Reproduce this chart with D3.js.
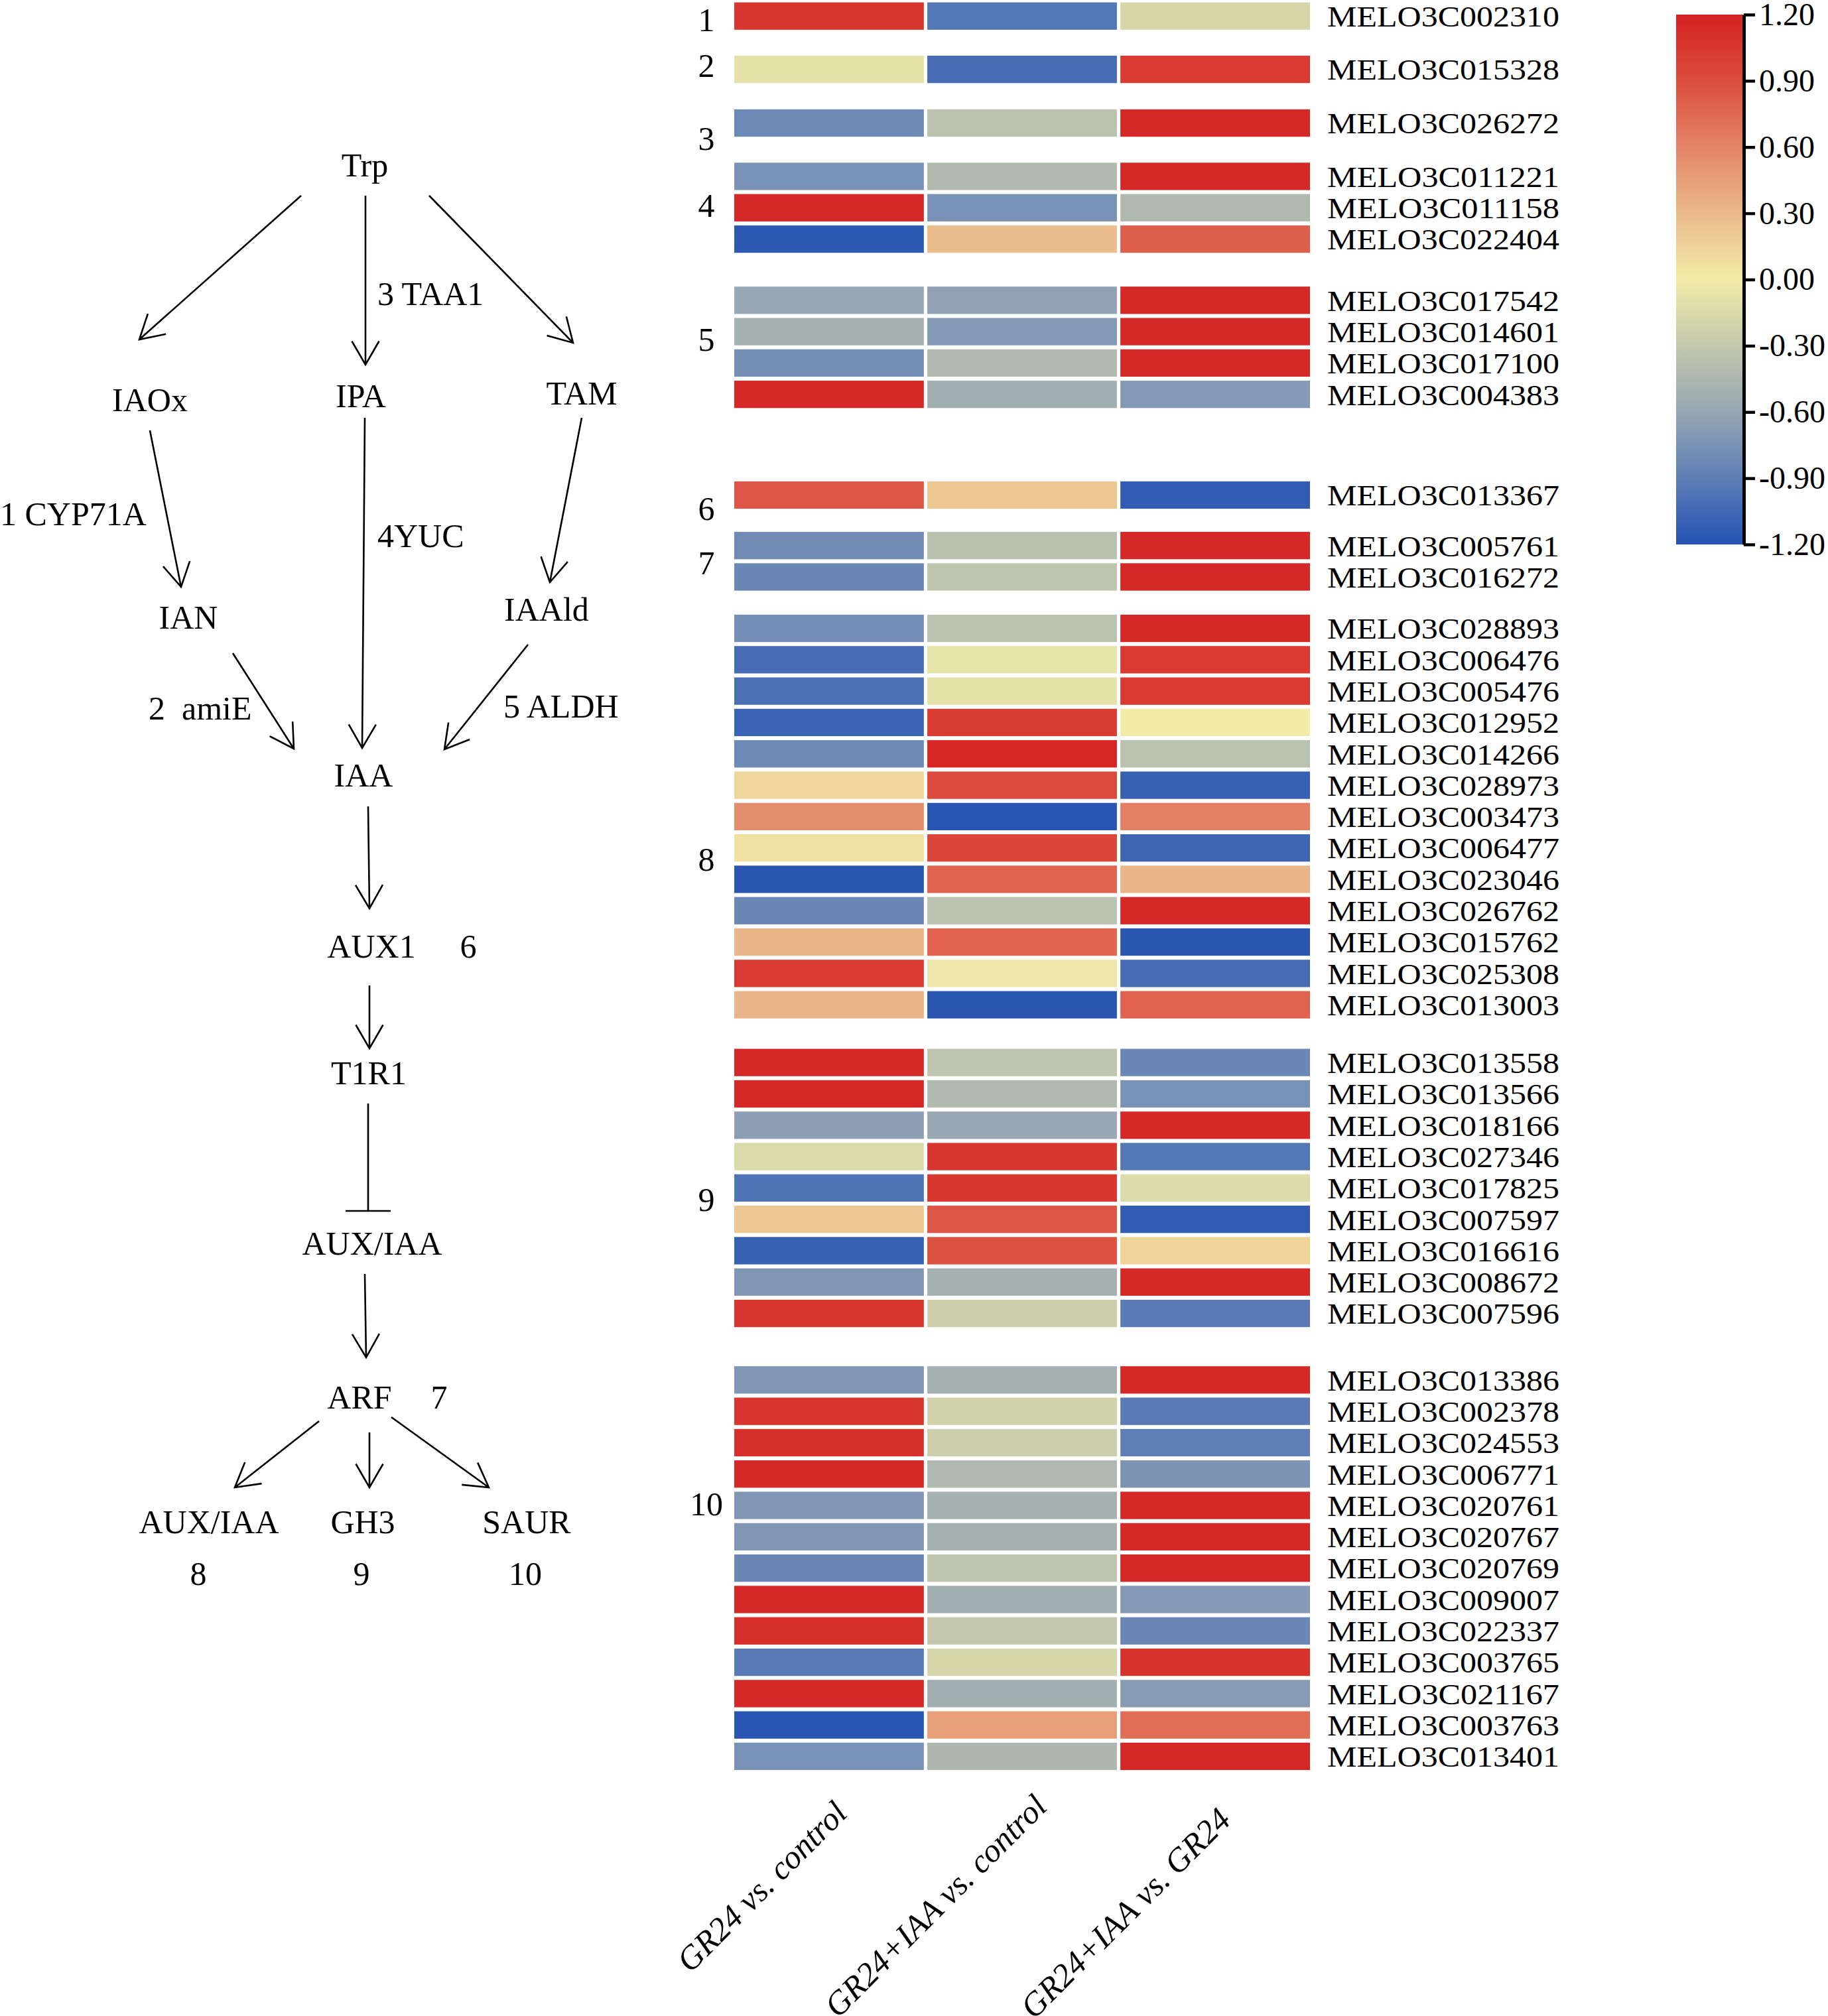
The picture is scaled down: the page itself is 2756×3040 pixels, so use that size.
<!DOCTYPE html>
<html>
<head>
<meta charset="utf-8">
<script src="https://cdn.jsdelivr.net/npm/d3@7/dist/d3.min.js"></script>
<style>
  html, body { margin: 0; padding: 0; background: #ffffff; }
  svg { display: block; }
  text { font-family: "Liberation Serif", "Times New Roman", serif; fill: #000; }
</style>
</head>
<body>
<svg id="chart" width="2756" height="3040"></svg>
<script>
// ---------------- DATA ----------------
const comparisons = ["GR24 vs. control", "GR24+IAA vs. control", "GR24+IAA vs. GR24"];

const groupIds = ["1", "2", "3", "4", "5", "6", "7", "8", "9", "10"];
const groupSizes = [1, 1, 1, 3, 4, 1, 2, 13, 9, 13];

const genes = [
  "MELO3C002310",
  "MELO3C015328",
  "MELO3C026272",
  "MELO3C011221", "MELO3C011158", "MELO3C022404",
  "MELO3C017542", "MELO3C014601", "MELO3C017100", "MELO3C004383",
  "MELO3C013367",
  "MELO3C005761", "MELO3C016272",
  "MELO3C028893", "MELO3C006476", "MELO3C005476", "MELO3C012952", "MELO3C014266",
  "MELO3C028973", "MELO3C003473", "MELO3C006477", "MELO3C023046", "MELO3C026762",
  "MELO3C015762", "MELO3C025308", "MELO3C013003",
  "MELO3C013558", "MELO3C013566", "MELO3C018166", "MELO3C027346", "MELO3C017825",
  "MELO3C007597", "MELO3C016616", "MELO3C008672", "MELO3C007596",
  "MELO3C013386", "MELO3C002378", "MELO3C024553", "MELO3C006771", "MELO3C020761",
  "MELO3C020767", "MELO3C020769", "MELO3C009007", "MELO3C022337", "MELO3C003765",
  "MELO3C021167", "MELO3C003763", "MELO3C013401"
];

const gr24VsControl = [
  1.05,
  -0.08,
  -0.82,
  -0.75, 1.15, -1.15,
  -0.58, -0.50, -0.77, 1.15,
  0.85,
  -0.80, -0.83,
  -0.78, -1.02, -1.00, -1.08, -0.82, 0.13, 0.55, 0.07, -1.17, -0.83, 0.32, 1.03, 0.32,
  1.15, 1.15, -0.65, -0.15, -0.97, 0.22, -1.10, -0.72, 1.05,
  -0.72, 1.07, 1.10, 1.15, -0.72, -0.72, -0.83, 1.15, 1.10, -0.92, 1.15, -1.18, -0.76
];

const gr24IaaVsControl = [
  -0.95,
  -1.02,
  -0.35,
  -0.42, -0.75, 0.28,
  -0.63, -0.70, -0.42, -0.52,
  0.22,
  -0.37, -0.33,
  -0.36, -0.07, -0.08, 1.02, 1.18, 0.92, -1.18, 0.95, 0.78, -0.36, 0.78, -0.04, -1.17,
  -0.33, -0.42, -0.58, 1.05, 1.05, 0.85, 0.88, -0.50, -0.23,
  -0.50, -0.22, -0.25, -0.43, -0.50, -0.50, -0.33, -0.52, -0.30, -0.18, -0.52, 0.45, -0.45
];

const gr24IaaVsGr24 = [
  -0.18,
  1.03,
  1.15,
  1.15, -0.43, 0.80,
  1.15, 1.15, 1.15, -0.70,
  -1.13,
  1.15, 1.15,
  1.15, 1.03, 1.03, 0.00, -0.36, -1.10, 0.62, -1.07, 0.32, 1.15, -1.17, -1.02, 0.78,
  -0.83, -0.76, 1.15, -0.95, -0.14, -1.13, 0.15, 1.15, -0.92,
  1.15, -0.92, -0.90, -0.74, 1.15, 1.15, 1.15, -0.70, -0.83, 1.08, -0.68, 0.72, 1.15
];

const legendTicks = [1.2, 0.9, 0.6, 0.3, 0.0, -0.3, -0.6, -0.9, -1.2];
const colorStops = ["#d42222", "#dc4d3e", "#e38468", "#ebb98a", "#f2eca8", "#c3c8ad", "#96a6b3", "#5e7eb6", "#2452b2"];

// ---------------- LAYOUT (not data) ----------------
const W = 2756, H = 3040;
const FONT = 50;
const GENE_FONT = 44;
const rowPitch = 47.3;
const heatTop = 3.6;
const groupGapSlots = [0, 0.70, 0.71, 0.70, 0.95, 2.21, 0.61, 0.64, 0.84, 1.12];
const groupLabelShift = [6, -6, 23, -3, -12, 20, 3, 65, 18, -97];
const colLabelShift = [[-18, -8], [-8, -18], [-22, 2]];

const svg = d3.select("#chart");
svg.append("rect").attr("width", W).attr("height", H).attr("fill", "#fff");

// compute slot index per row
const rows = [];
const groupInfo = [];
let slot = 0, gi = 0;
groupSizes.forEach((n, g) => {
  slot += groupGapSlots[g];
  const start = slot;
  for (let k = 0; k < n; k++) {
    rows.push({ gene: genes[gi], slot: slot, group: g,
      vals: [gr24VsControl[gi], gr24IaaVsControl[gi], gr24IaaVsGr24[gi]] });
    gi++; slot += 1;
  }
  groupInfo.push({ id: groupIds[g], start: start, end: slot });
});
const totalSlots = slot;

const y = d3.scaleLinear().domain([0, totalSlots]).range([heatTop, heatTop + totalSlots * rowPitch]);
const x = d3.scaleBand().domain(comparisons).range([1107, 1975]).paddingInner(0.018);
const cellH = rowPitch * 0.873;

const color = d3.scaleLinear()
  .domain(legendTicks)
  .range(colorStops)
  .interpolate(d3.interpolateRgb)
  .clamp(true);

// ---------------- HEATMAP ----------------
const heat = svg.append("g");
rows.forEach(r => {
  heat.selectAll(null)
    .data(comparisons.map((c, i) => ({ c, v: r.vals[i] })))
    .join("rect")
    .attr("x", d => x(d.c))
    .attr("y", y(r.slot))
    .attr("width", x.bandwidth())
    .attr("height", cellH)
    .attr("fill", d => color(d.v));
});

heat.selectAll("text.gene")
  .data(rows)
  .join("text")
  .attr("class", "gene")
  .attr("x", 2001)
  .attr("y", d => y(d.slot) + cellH / 2 + GENE_FONT * 0.36)
  .attr("font-size", GENE_FONT)
  .attr("textLength", 350)
  .attr("lengthAdjust", "spacingAndGlyphs")
  .text(d => d.gene);

heat.selectAll("text.grp")
  .data(groupInfo)
  .join("text")
  .attr("class", "grp")
  .attr("x", 1065)
  .attr("text-anchor", "middle")
  .attr("y", (d, i) => (y(d.start) + y(d.end - 1) + cellH) / 2 + groupLabelShift[i] + FONT * 0.34)
  .attr("font-size", FONT)
  .text(d => d.id);

// column labels (rotated, italic)
svg.selectAll("text.col")
  .data(comparisons)
  .join("text")
  .attr("class", "col")
  .attr("text-anchor", "end")
  .attr("font-style", "italic")
  .attr("font-size", FONT)
  .attr("transform", (d, i) => `translate(${x(d) + x.bandwidth() / 2 + 48 + colLabelShift[i][0]},${2745 + colLabelShift[i][1]}) rotate(-45)`)
  .text(d => d);

// ---------------- COLOR LEGEND ----------------
const ly = d3.scaleLinear().domain([1.2, -1.2]).range([22, 821]);
const defs = svg.append("defs");
const grad = defs.append("linearGradient").attr("id", "lg")
  .attr("x1", 0).attr("y1", 0).attr("x2", 0).attr("y2", 1);
legendTicks.forEach((t, i) => {
  grad.append("stop")
    .attr("offset", (ly(t) - 22) / (821 - 22))
    .attr("stop-color", colorStops[i]);
});
svg.append("rect")
  .attr("x", 2527).attr("y", 22)
  .attr("width", 101).attr("height", 821 - 22)
  .attr("fill", "url(#lg)");
const legAxis = svg.append("g")
  .attr("transform", "translate(2629,0)")
  .call(d3.axisRight(ly).tickValues(legendTicks).tickFormat(d3.format(".2f"))
    .tickSize(17).tickSizeOuter(0).tickPadding(6));
legAxis.select(".domain").attr("stroke", "#000").attr("stroke-width", 5);
legAxis.selectAll(".tick line").attr("stroke", "#000").attr("stroke-width", 4.5);
legAxis.selectAll(".tick text")
  .attr("font-family", "Liberation Serif, serif")
  .attr("font-size", 48)
  .attr("fill", "#000")
  .text(d => d3.format(".2f")(d).replace("−", "-"));

// ---------------- PATHWAY DIAGRAM ----------------
const dLabels = [
  { t: "Trp", x: 550, y: 266, a: "middle" },
  { t: "3 TAA1", x: 569, y: 460, a: "start" },
  { t: "IAOx", x: 226, y: 620, a: "middle" },
  { t: "IPA", x: 544, y: 614, a: "middle" },
  { t: "TAM", x: 877, y: 610, a: "middle" },
  { t: "1 CYP71A", x: 0, y: 792, a: "start" },
  { t: "4YUC", x: 569, y: 825, a: "start" },
  { t: "IAN", x: 284, y: 948, a: "middle" },
  { t: "IAAld", x: 824, y: 936, a: "middle" },
  { t: "2  amiE", x: 224, y: 1085, a: "start" },
  { t: "5 ALDH", x: 759, y: 1082, a: "start" },
  { t: "IAA", x: 548, y: 1186, a: "middle" },
  { t: "AUX1", x: 560, y: 1444, a: "middle" },
  { t: "6", x: 706, y: 1444, a: "middle" },
  { t: "T1R1", x: 556, y: 1635, a: "middle" },
  { t: "AUX/IAA", x: 561, y: 1892, a: "middle" },
  { t: "ARF", x: 542, y: 2124, a: "middle" },
  { t: "7", x: 662, y: 2124, a: "middle" },
  { t: "AUX/IAA", x: 315, y: 2312, a: "middle" },
  { t: "GH3", x: 547, y: 2312, a: "middle" },
  { t: "SAUR", x: 794, y: 2312, a: "middle" },
  { t: "8", x: 299, y: 2390, a: "middle" },
  { t: "9", x: 545, y: 2390, a: "middle" },
  { t: "10", x: 792, y: 2390, a: "middle" }
];
const dArrows = [
  [454, 295, 210, 512],
  [551, 295, 551, 550],
  [647, 295, 864, 517],
  [226, 649, 273, 885],
  [550, 630, 546, 1128],
  [877, 630, 829, 878],
  [351, 985, 443, 1129],
  [796, 972, 670, 1130],
  [555, 1216, 557, 1370],
  [557, 1486, 557, 1581],
  [550, 1921, 552, 2047],
  [481, 2143, 354, 2243],
  [557, 2160, 557, 2243],
  [590, 2137, 737, 2243]
];
const dInhibit = [[555, 1664, 555, 1826]];

const dg = svg.append("g").attr("stroke", "#000").attr("stroke-width", 2.6).attr("fill", "none");
const headLen = 41, headAng = Math.PI / 6;
dArrows.forEach(([x1, y1, x2, y2]) => {
  const ang = Math.atan2(y2 - y1, x2 - x1);
  const p = d3.path();
  p.moveTo(x1, y1); p.lineTo(x2, y2);
  p.moveTo(x2 - headLen * Math.cos(ang - headAng), y2 - headLen * Math.sin(ang - headAng));
  p.lineTo(x2, y2);
  p.lineTo(x2 - headLen * Math.cos(ang + headAng), y2 - headLen * Math.sin(ang + headAng));
  dg.append("path").attr("d", p.toString());
});
dInhibit.forEach(([x1, y1, x2, y2]) => {
  const p = d3.path();
  p.moveTo(x1, y1); p.lineTo(x2, y2);
  p.moveTo(x2 - 34, y2); p.lineTo(x2 + 34, y2);
  dg.append("path").attr("d", p.toString());
});

svg.append("g").selectAll("text")
  .data(dLabels)
  .join("text")
  .attr("x", d => d.x)
  .attr("y", d => d.y)
  .attr("text-anchor", d => d.a)
  .attr("font-size", FONT)
  .attr("xml:space", "preserve")
  .style("white-space", "pre")
  .text(d => d.t);
</script>
</body>
</html>
